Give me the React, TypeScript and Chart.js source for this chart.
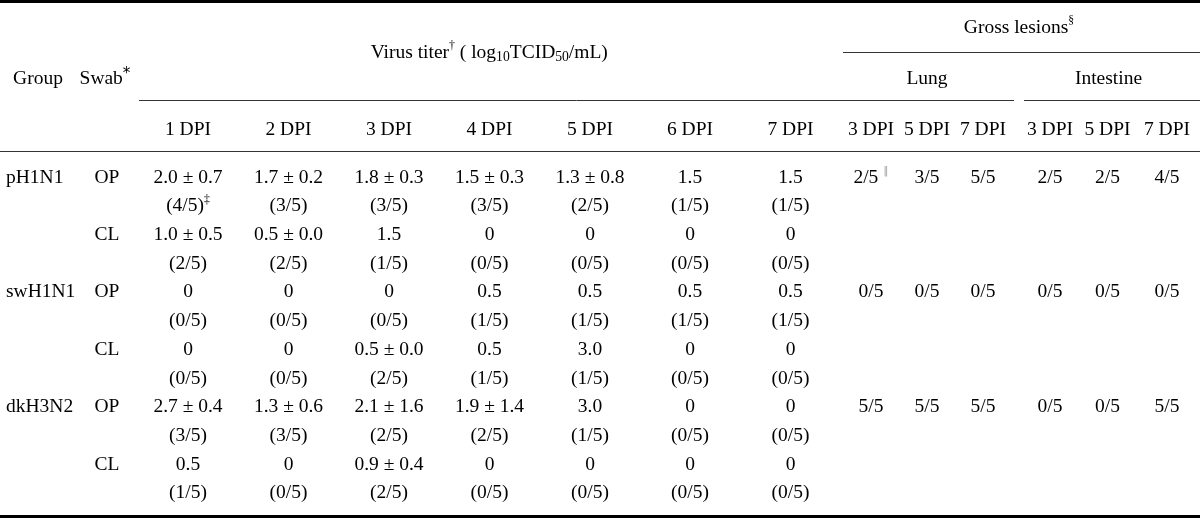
import React, { useEffect, useRef } from "react";
import { Chart, registerables } from "chart.js";

Chart.register(...registerables);

// ---------- DATA ----------
const groups = ["pH1N1", "swH1N1", "dkH3N2"];
const swabs = ["OP", "CL"];
const titerDays = ["1 DPI", "2 DPI", "3 DPI", "4 DPI", "5 DPI", "6 DPI", "7 DPI"];
const lesionDays = ["3 DPI", "5 DPI", "7 DPI"];
const lesionOrgans = ["Lung", "Intestine"];
const animalsPerGroup = 5;

// mean virus titer (log10TCID50/mL), SD (null = single positive), number of positive birds
const pH1N1_OP_mean = [2.0, 1.7, 1.8, 1.5, 1.3, 1.5, 1.5];
const pH1N1_OP_sd = [0.7, 0.2, 0.3, 0.3, 0.8, null, null];
const pH1N1_OP_pos = [4, 3, 3, 3, 2, 1, 1];
const pH1N1_CL_mean = [1.0, 0.5, 1.5, 0, 0, 0, 0];
const pH1N1_CL_sd = [0.5, 0.0, null, null, null, null, null];
const pH1N1_CL_pos = [2, 2, 1, 0, 0, 0, 0];

const swH1N1_OP_mean = [0, 0, 0, 0.5, 0.5, 0.5, 0.5];
const swH1N1_OP_sd = [null, null, null, null, null, null, null];
const swH1N1_OP_pos = [0, 0, 0, 1, 1, 1, 1];
const swH1N1_CL_mean = [0, 0, 0.5, 0.5, 3.0, 0, 0];
const swH1N1_CL_sd = [null, null, 0.0, null, null, null, null];
const swH1N1_CL_pos = [0, 0, 2, 1, 1, 0, 0];

const dkH3N2_OP_mean = [2.7, 1.3, 2.1, 1.9, 3.0, 0, 0];
const dkH3N2_OP_sd = [0.4, 0.6, 1.6, 1.4, null, null, null];
const dkH3N2_OP_pos = [3, 3, 2, 2, 1, 0, 0];
const dkH3N2_CL_mean = [0.5, 0, 0.9, 0, 0, 0, 0];
const dkH3N2_CL_sd = [null, null, 0.4, null, null, null, null];
const dkH3N2_CL_pos = [1, 0, 2, 0, 0, 0, 0];

// gross lesions: positive birds at 3, 5, 7 DPI
const lungLesions = [
  [2, 3, 5],
  [0, 0, 0],
  [5, 5, 5],
];
const intestineLesions = [
  [2, 2, 4],
  [0, 0, 0],
  [0, 0, 5],
];

const titerMeans = [
  [pH1N1_OP_mean, pH1N1_CL_mean],
  [swH1N1_OP_mean, swH1N1_CL_mean],
  [dkH3N2_OP_mean, dkH3N2_CL_mean],
];
const titerSds = [
  [pH1N1_OP_sd, pH1N1_CL_sd],
  [swH1N1_OP_sd, swH1N1_CL_sd],
  [dkH3N2_OP_sd, dkH3N2_CL_sd],
];
const titerPos = [
  [pH1N1_OP_pos, pH1N1_CL_pos],
  [swH1N1_OP_pos, swH1N1_CL_pos],
  [dkH3N2_OP_pos, dkH3N2_CL_pos],
];

// ---------- LAYOUT (scale units = page pixels) ----------
const W = 1200;
const H = 518;
const FONT_SIZE = 19.5;
const SERIF = '"Liberation Serif", "Times New Roman", serif';
const X_GROUP_HEAD = 38;
const X_GROUP = 6;
const X_SWAB_HEAD = 105;
const X_SWAB = 107;
const titerX = [188, 288.5, 389, 489.5, 590, 690, 790.5];
const lungX = [871, 927, 983];
const intestineX = [1050, 1107.5, 1167];
const Y_GROSS = 26;
const Y_TITER_HEAD = 51;
const Y_SUB = 77.5;
const Y_DPI = 128;
const Y_ROW0 = 176;
const ROW_STEP = 28.7;

const fmtTiter = (m: number, sd: number | null) =>
  sd == null ? (m === 0 ? "0" : m.toFixed(1)) : `${m.toFixed(1)} ± ${sd.toFixed(1)}`;

type Cell = { x: number; y: number; label: string; align?: "left" | "center" };

function buildCells(): Cell[] {
  const cells: Cell[] = [];
  const mid = (a: number[]) => (a[0] + a[a.length - 1]) / 2;
  cells.push({ x: X_GROUP_HEAD, y: Y_SUB, label: "Group" });
  cells.push({ x: X_SWAB_HEAD, y: Y_SUB, label: "Swab^{*}" });
  cells.push({ x: mid(titerX), y: Y_TITER_HEAD, label: "Virus titer^{†} ( log_{10}TCID_{50}/mL)" });
  cells.push({ x: (lungX[0] + intestineX[2]) / 2, y: Y_GROSS, label: "Gross lesions^{§}" });
  cells.push({ x: mid(lungX), y: Y_SUB, label: lesionOrgans[0] });
  cells.push({ x: mid(intestineX), y: Y_SUB, label: lesionOrgans[1] });
  titerDays.forEach((d, i) => cells.push({ x: titerX[i], y: Y_DPI, label: d }));
  lesionDays.forEach((d, i) => {
    cells.push({ x: lungX[i], y: Y_DPI, label: d });
    cells.push({ x: intestineX[i], y: Y_DPI, label: d });
  });

  groups.forEach((g, gi) => {
    const gRow = gi * 4;
    cells.push({ x: X_GROUP, y: Y_ROW0 + gRow * ROW_STEP, label: g, align: "left" });
    swabs.forEach((s, si) => {
      const r = gRow + si * 2;
      const yv = Y_ROW0 + r * ROW_STEP;
      const yc = Y_ROW0 + (r + 1) * ROW_STEP;
      cells.push({ x: X_SWAB, y: yv, label: s });
      titerDays.forEach((_, di) => {
        cells.push({ x: titerX[di], y: yv, label: fmtTiter(titerMeans[gi][si][di], titerSds[gi][si][di]) });
        const mark = gi === 0 && si === 0 && di === 0 ? "^{‡}" : "";
        cells.push({ x: titerX[di], y: yc, label: `(${titerPos[gi][si][di]}/${animalsPerGroup})${mark}` });
      });
    });
    const yl = Y_ROW0 + gRow * ROW_STEP;
    lesionDays.forEach((_, di) => {
      const mark = gi === 0 && di === 0 ? " ^{‖}" : "";
      cells.push({ x: lungX[di], y: yl, label: `${lungLesions[gi][di]}/${animalsPerGroup}${mark}` });
      cells.push({ x: intestineX[di], y: yl, label: `${intestineLesions[gi][di]}/${animalsPerGroup}` });
    });
  });
  return cells;
}

type Seg = { t: string; k: "n" | "sup" | "sub" };
function parseRich(s: string): Seg[] {
  const out: Seg[] = [];
  const re = /\^\{([^}]*)\}|_\{([^}]*)\}/g;
  let last = 0;
  let m: RegExpExecArray | null;
  while ((m = re.exec(s))) {
    if (m.index > last) out.push({ t: s.slice(last, m.index), k: "n" });
    if (m[1] !== undefined) out.push({ t: m[1], k: "sup" });
    else out.push({ t: m[2], k: "sub" });
    last = re.lastIndex;
  }
  if (last < s.length) out.push({ t: s.slice(last), k: "n" });
  return out;
}

function segFont(seg: Seg, size: number) {
  if (seg.k === "sup" && seg.t === "*") return `${size * 0.78}px "DejaVu Sans", sans-serif`;
  if (seg.k === "sup" && seg.t === "‖") return `300 ${size * 0.55}px "DejaVu Sans", sans-serif`;
  if (seg.k === "sup") return `${size * 0.6}px ${SERIF}`;
  if (seg.k === "sub") return `${size * 0.7}px ${SERIF}`;
  return `${size}px ${SERIF}`;
}

function drawRich(ctx: CanvasRenderingContext2D, text: string, x: number, y: number, align: string, size: number) {
  const segs = parseRich(text);
  const widths = segs.map((sg) => {
    ctx.font = segFont(sg, size);
    return ctx.measureText(sg.t).width;
  });
  const total = widths.reduce((a, b) => a + b, 0);
  let cx = align === "left" ? x : x - total / 2;
  const base = y + size * 0.34;
  ctx.textAlign = "left";
  ctx.textBaseline = "alphabetic";
  ctx.fillStyle = "#000";
  segs.forEach((sg, i) => {
    ctx.font = segFont(sg, size);
    let dy = 0;
    if (sg.k === "sup") dy = sg.t === "*" ? -size * 0.3 : -size * 0.42;
    if (sg.k === "sub") dy = size * 0.18;
    ctx.fillStyle = sg.t === "‖" ? "#666" : "#000";
    ctx.fillText(sg.t, cx, base + dy);
    cx += widths[i];
  });
}

const tablePlugin = {
  id: "tableText",
  afterDatasetsDraw(chart: any) {
    const ctx = chart.ctx as CanvasRenderingContext2D;
    chart.data.datasets.forEach((ds: any, di: number) => {
      if (!ds.isText) return;
      const meta = chart.getDatasetMeta(di);
      ctx.save();
      meta.data.forEach((el: any, i: number) => {
        const raw = ds.data[i];
        drawRich(ctx, raw.label, el.x, el.y, raw.align || "center", FONT_SIZE);
      });
      ctx.restore();
    });
  },
};

// horizontal rules: [y, x0, x1, width, color]
const rules: [number, number, number, number, string][] = [
  [1.5, 0, W, 3, "#000"],
  [52.5, 843, W, 1, "#333"],
  [100.5, 139, 1014, 1, "#333"],
  [100.5, 1024, W, 1, "#333"],
  [151.5, 0, W, 1, "#333"],
  [516.5, 0, W, 3, "#000"],
];

export default function App() {
  const ref = useRef<HTMLCanvasElement | null>(null);
  useEffect(() => {
    document.body.style.margin = "0";
    if (!ref.current) return;
    const cells = buildCells();
    const datasets: any[] = rules.map(([y, x0, x1, w, c]) => ({
      data: [
        { x: x0, y },
        { x: x1, y },
      ],
      showLine: true,
      borderColor: c,
      borderWidth: w,
      pointRadius: 0,
      clip: false,
    }));
    datasets.push({
      isText: true,
      data: cells,
      pointRadius: 0,
      showLine: false,
      clip: false,
    });
    const chart = new Chart(ref.current, {
      type: "scatter",
      data: { datasets },
      options: {
        animation: false,
        responsive: false,
        maintainAspectRatio: false,
        layout: { padding: 0 },
        events: [],
        plugins: { legend: { display: false }, tooltip: { enabled: false } },
        scales: {
          x: { type: "linear", display: false, min: 0, max: W },
          y: { type: "linear", display: false, min: 0, max: H, reverse: true },
        },
      },
      plugins: [tablePlugin],
    } as any);
    return () => chart.destroy();
  }, []);
  return (
    <div style={{ position: "fixed", left: 0, top: 0, width: W, height: H, background: "#fff" }}>
      <canvas ref={ref} width={W} height={H} style={{ display: "block" }} />
    </div>
  );
}
